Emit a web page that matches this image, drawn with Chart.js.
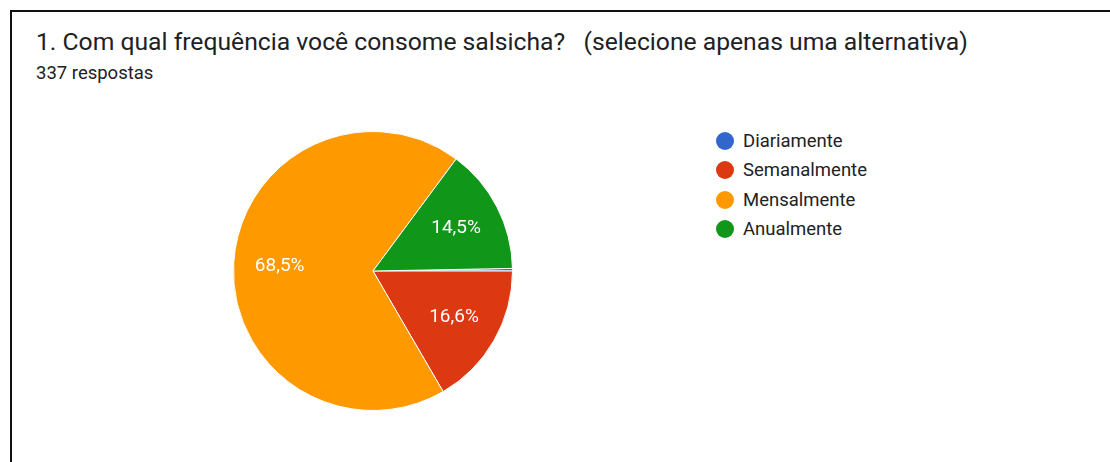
<!DOCTYPE html>
<html>
<head>
<meta charset="utf-8">
<script src="https://cdn.jsdelivr.net/npm/chart.js@4"></script>
<style>
  html, body { margin: 0; padding: 0; background: #fff; }
  body { width: 1110px; height: 462px; position: relative; overflow: hidden; font-family: Roboto, Arial, sans-serif; }
  .frame { position: absolute; left: 10px; top: 10px; right: -4px; bottom: -4px; border-left: 2px solid #111; border-top: 2px solid #111; }
  .title { position: absolute; left: 36px; top: 27px; font-size: 24.7px; line-height: 30px; color: #202124; white-space: pre; }
  .sub { position: absolute; left: 36px; top: 62px; font-size: 18.5px; line-height: 22px; color: #202124; }
  .chart-box { position: absolute; left: 233px; top: 131px; width: 280px; height: 280px; }
  .legend { position: absolute; left: 716px; top: 126px; }
  .legend div { height: 29.5px; display: flex; align-items: center; font-size: 18.5px; color: #222; }
  .legend span.dot { width: 18px; height: 18px; border-radius: 50%; display: inline-block; margin-right: 9px; }
</style>
</head>
<body>
<div class="frame"></div>
<div class="title">1. Com qual frequência você consome salsicha?   (selecione apenas uma alternativa)</div>
<div class="sub">337 respostas</div>
<div class="chart-box"><canvas id="pie"></canvas></div>
<div class="legend" id="legend"></div>
<script>
var categorias = ['Diariamente', 'Semanalmente', 'Mensalmente', 'Anualmente'];
var respostas = [1, 56, 231, 49];
var cores = ['#3366cc', '#dc3912', '#ff9900', '#109618'];

var total = respostas.reduce(function(a, b) { return a + b; }, 0);

// legenda à direita
var legend = document.getElementById('legend');
categorias.forEach(function(nome, i) {
  var row = document.createElement('div');
  row.innerHTML = '<span class="dot" style="background:' + cores[i] + '"></span>' + nome;
  legend.appendChild(row);
});

// porcentagens brancas dentro das fatias
var rotulos = {
  id: 'rotulos',
  afterDatasetsDraw: function(chart) {
    var ctx = chart.ctx;
    var meta = chart.getDatasetMeta(0);
    ctx.save();
    ctx.fillStyle = '#ffffff';
    ctx.font = '19px Roboto, Arial, sans-serif';
    ctx.textAlign = 'center';
    ctx.textBaseline = 'middle';
    meta.data.forEach(function(arc, i) {
      var pct = respostas[i] / total * 100;
      if (pct < 5) return;
      var meio = (arc.startAngle + arc.endAngle) / 2;
      var r = arc.outerRadius * 0.67;
      ctx.fillText(pct.toFixed(1).replace('.', ',') + '%', arc.x + Math.cos(meio) * r, arc.y + Math.sin(meio) * r);
    });
    ctx.restore();
  }
};

new Chart(document.getElementById('pie').getContext('2d'), {
  type: 'pie',
  data: {
    labels: categorias,
    datasets: [{
      data: respostas,
      backgroundColor: cores,
      borderColor: '#ffffff',
      borderWidth: 1
    }]
  },
  options: {
    responsive: true,
    maintainAspectRatio: false,
    animation: false,
    // começa às 3 horas, com a fatia mínima logo acima da horizontal
    rotation: 90 - 360 * respostas[0] / total,
    layout: { padding: 0 },
    plugins: {
      legend: { display: false },
      tooltip: { enabled: false }
    }
  },
  plugins: [rotulos]
});
</script>
</body>
</html>
